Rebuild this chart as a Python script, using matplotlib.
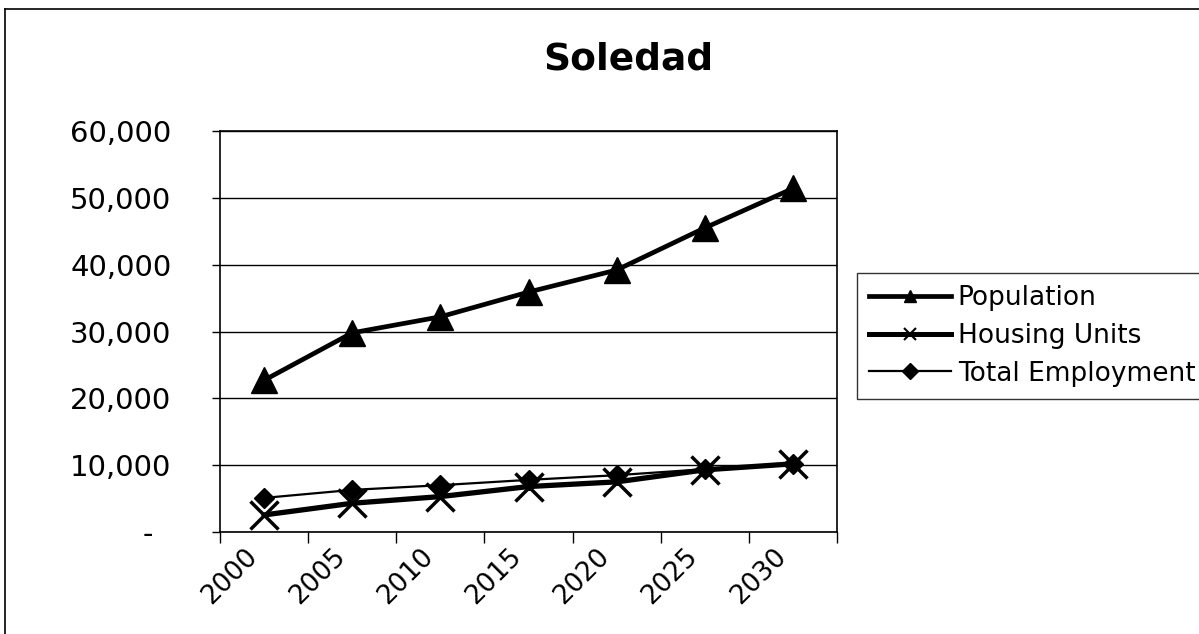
import matplotlib.pyplot as plt
from matplotlib.lines import Line2D
from matplotlib.ticker import FixedLocator, FuncFormatter
from matplotlib.transforms import ScaledTranslation

years = ['2000', '2005', '2010', '2015', '2020', '2025', '2030']
population = [22700, 29800, 32200, 35900, 39200, 45500, 51400]
housing_units = [2550, 4300, 5300, 6800, 7500, 9300, 10200]
total_employment = [5100, 6300, 7000, 7800, 8500, 9400, 10200]

plt.rcParams['font.family'] = ['DejaVu Sans']

fig = plt.figure(figsize=(11.99, 6.34), dpi=100)
ax = fig.add_axes([220 / 1199, 1 - 532 / 634, (837 - 220) / 1199, (532 - 131) / 634])

x = list(range(len(years)))
ax.plot(x, population, color='black', lw=3.4, marker='^', markersize=19,
        label='Population', zorder=4)
ax.plot(x, housing_units, color='black', lw=3.8, marker='x', markersize=20,
        markeredgewidth=2.5, label='Housing Units', zorder=3)
ax.plot(x, total_employment, color='black', lw=1.6, marker='D', markersize=10,
        label='Total Employment', zorder=3)

ax.set_xlim(-0.5, len(years) - 0.5)
ax.set_ylim(0, 60000)

# category boundaries get tick marks, labels sit at the centres
ax.xaxis.set_major_locator(FixedLocator([i - 0.5 for i in range(len(years) + 1)]))
ax.xaxis.set_major_formatter(FuncFormatter(lambda v, p: ''))
ax.xaxis.set_minor_locator(FixedLocator(x))
ax.set_xticklabels(years, minor=True)
ax.tick_params(axis='x', which='major', direction='out', length=8, width=1, color='black')
ax.tick_params(axis='x', which='minor', length=0, pad=8, labelsize=19)
shift = ScaledTranslation(-20 / 100, 0, fig.dpi_scale_trans)
for lab in ax.get_xticklabels(minor=True):
    lab.set_rotation(45)
    lab.set_ha('right')
    lab.set_va('top')
    lab.set_rotation_mode('anchor')
    lab.set_transform(lab.get_transform() + shift)

ax.set_yticks(range(0, 60001, 10000))
ax.yaxis.set_major_formatter(FuncFormatter(lambda v, p: '-  ' if v == 0 else f'{int(v):,}'))
ax.tick_params(axis='y', direction='out', length=6, width=1, color='black', labelsize=21, pad=29)

ax.grid(axis='y', color='black', lw=1)
ax.set_axisbelow(True)
for s in ax.spines.values():
    s.set_color('black')
    s.set_linewidth(1.2)

fig.text(628 / 1199, 1 - 60 / 634, 'Soledad', ha='center', va='center',
         fontsize=27, fontweight='bold')

handles = [
    Line2D([], [], color='black', lw=3.4, marker='^', markersize=9),
    Line2D([], [], color='black', lw=3.6, marker='x', markersize=9, markeredgewidth=1.5),
    Line2D([], [], color='black', lw=1.6, marker='D', markersize=8),
]
leg = fig.legend(handles, ['Population', 'Housing Units', 'Total Employment'],
                 loc='upper left', bbox_to_anchor=(857 / 1199, 1 - 273 / 634),
                 fontsize=19, frameon=True, fancybox=False, handlelength=3.1,
                 handletextpad=0.27, borderpad=0.45, labelspacing=0.45, borderaxespad=0)
leg.get_frame().set_edgecolor('black')
leg.get_frame().set_linewidth(1)

# outer chart border (top and left visible)
fig.add_artist(Line2D([5 / 1199, 1], [1 - 9 / 634, 1 - 9 / 634], color='black', lw=1.2))
fig.add_artist(Line2D([5 / 1199, 5 / 1199], [0, 1 - 9 / 634], color='black', lw=1.2))

fig.savefig('out.png', dpi=100)
